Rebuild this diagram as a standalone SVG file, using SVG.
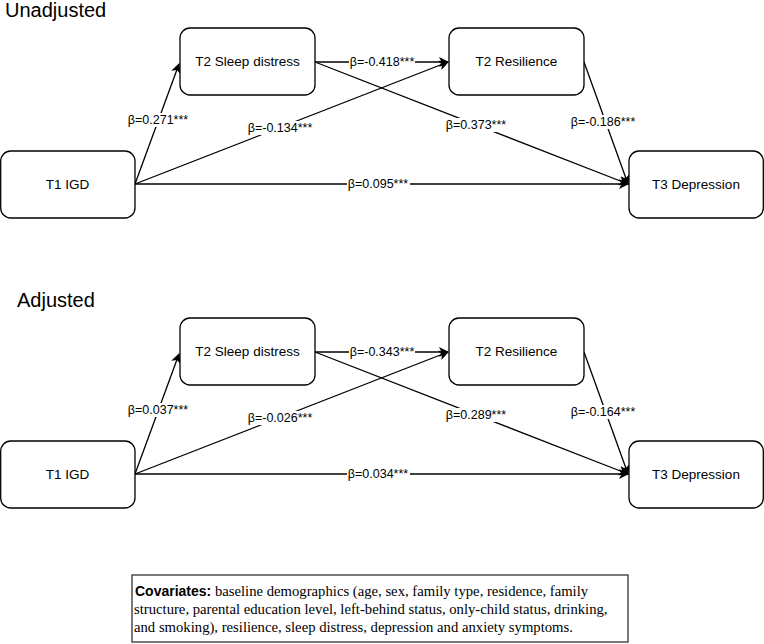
<svg xmlns="http://www.w3.org/2000/svg" width="764" height="644" viewBox="0 0 764 644">
<defs>
<style>
.node rect{fill:#fff;stroke:#000;stroke-width:1.3}
.nt{font-family:"Liberation Sans",Arial,sans-serif;font-size:13.5px;fill:#000;text-anchor:middle;dominant-baseline:central}
.title{font-family:"Liberation Sans",Arial,sans-serif;font-size:20px;fill:#000}
.edge{stroke:#000;stroke-width:1.3;fill:none;marker-end:url(#arr)}
.lbg{fill:#fff}
.el{font-family:"Liberation Sans",Arial,sans-serif;font-size:12.5px;fill:#000;text-anchor:middle;dominant-baseline:central}
.cov{font-family:"Liberation Serif","Times New Roman",serif;font-size:14.7px;fill:#000}
.covb{font-family:"Liberation Sans",Arial,sans-serif;font-weight:bold;font-size:14px}
</style>
<marker id="arr" viewBox="0 0 10 10" refX="9" refY="5" markerWidth="10" markerHeight="10" markerUnits="userSpaceOnUse" orient="auto">
<path d="M0,0 L10,5 L0,10 L2.5,5 Z" fill="#000"/>
</marker>
</defs>
<rect width="764" height="644" fill="#fff"/>

<text class="title" x="5" y="17">Unadjusted</text>
<text class="title" x="17" y="307">Adjusted</text>

<g id="connectors">
<!-- Unadjusted -->
<line class="edge" x1="135" y1="184" x2="179" y2="64"/>
<line class="edge" x1="135" y1="184" x2="448" y2="62"/>
<line class="edge" x1="315" y1="62" x2="448" y2="62"/>
<line class="edge" x1="315" y1="62" x2="628" y2="184"/>
<line class="edge" x1="584" y1="62" x2="628" y2="184"/>
<line class="edge" x1="135" y1="184" x2="628" y2="184"/>
<!-- Adjusted -->
<line class="edge" x1="135" y1="474" x2="179" y2="354"/>
<line class="edge" x1="135" y1="474" x2="448" y2="352"/>
<line class="edge" x1="315" y1="352" x2="448" y2="352"/>
<line class="edge" x1="315" y1="352" x2="628" y2="474"/>
<line class="edge" x1="584" y1="352" x2="628" y2="474"/>
<line class="edge" x1="135" y1="474" x2="628" y2="474"/>

<g id="labels">
<rect class="lbg" x="127" y="113" width="63" height="14"/><text class="el" x="158" y="120">β=0.271***</text>
<rect class="lbg" x="246" y="121" width="68" height="14"/><text class="el" x="280" y="128">β=-0.134***</text>
<rect class="lbg" x="349" y="55" width="66" height="14"/><text class="el" x="382" y="62">β=-0.418***</text>
<rect class="lbg" x="445" y="118" width="63" height="14"/><text class="el" x="476" y="125">β=0.373***</text>
<rect class="lbg" x="569" y="115" width="68" height="14"/><text class="el" x="603" y="122">β=-0.186***</text>
<rect class="lbg" x="347" y="177" width="63" height="14"/><text class="el" x="378" y="184">β=0.095***</text>

<rect class="lbg" x="127" y="403" width="63" height="14"/><text class="el" x="158" y="410">β=0.037***</text>
<rect class="lbg" x="246" y="411" width="68" height="14"/><text class="el" x="280" y="418">β=-0.026***</text>
<rect class="lbg" x="349" y="345" width="66" height="14"/><text class="el" x="382" y="352">β=-0.343***</text>
<rect class="lbg" x="445" y="408" width="63" height="14"/><text class="el" x="476" y="415">β=0.289***</text>
<rect class="lbg" x="569" y="405" width="68" height="14"/><text class="el" x="603" y="412">β=-0.164***</text>
<rect class="lbg" x="347" y="467" width="63" height="14"/><text class="el" x="378" y="474">β=0.034***</text>
</g>
</g>

<g id="u-sleep" class="node"><rect x="180" y="28" width="135" height="67" rx="10"/><text class="nt" x="247.5" y="61.5">T2 Sleep distress</text></g>
<g id="u-resilience" class="node"><rect x="449" y="28" width="135" height="67" rx="10"/><text class="nt" x="516.5" y="61.5">T2 Resilience</text></g>
<g id="u-igd" class="node"><rect x="0.7" y="151" width="134.3" height="67" rx="10"/><text class="nt" x="67.5" y="184.5">T1 IGD</text></g>
<g id="u-depression" class="node"><rect x="629" y="151" width="134.3" height="67" rx="10"/><text class="nt" x="696" y="184.5">T3 Depression</text></g>

<g id="a-sleep" class="node"><rect x="180" y="318" width="135" height="67" rx="10"/><text class="nt" x="247.5" y="351.5">T2 Sleep distress</text></g>
<g id="a-resilience" class="node"><rect x="449" y="318" width="135" height="67" rx="10"/><text class="nt" x="516.5" y="351.5">T2 Resilience</text></g>
<g id="a-igd" class="node"><rect x="0.7" y="441" width="134.3" height="67" rx="10"/><text class="nt" x="67.5" y="474.5">T1 IGD</text></g>
<g id="a-depression" class="node"><rect x="629" y="441" width="134.3" height="67" rx="10"/><text class="nt" x="696" y="474.5">T3 Depression</text></g>

<g id="covariates">
<rect x="132" y="575" width="496" height="67" fill="#fff" stroke="#333" stroke-width="1.3"/>
<text class="cov" x="135" y="596"><tspan class="covb">Covariates:</tspan> baseline demographics (age, sex, family type, residence, family</text>
<text class="cov" x="134" y="614">structure, parental education level, left-behind status, only-child status, drinking,</text>
<text class="cov" x="134" y="632">and smoking), resilience, sleep distress, depression and anxiety symptoms.</text>
</g>
</svg>
